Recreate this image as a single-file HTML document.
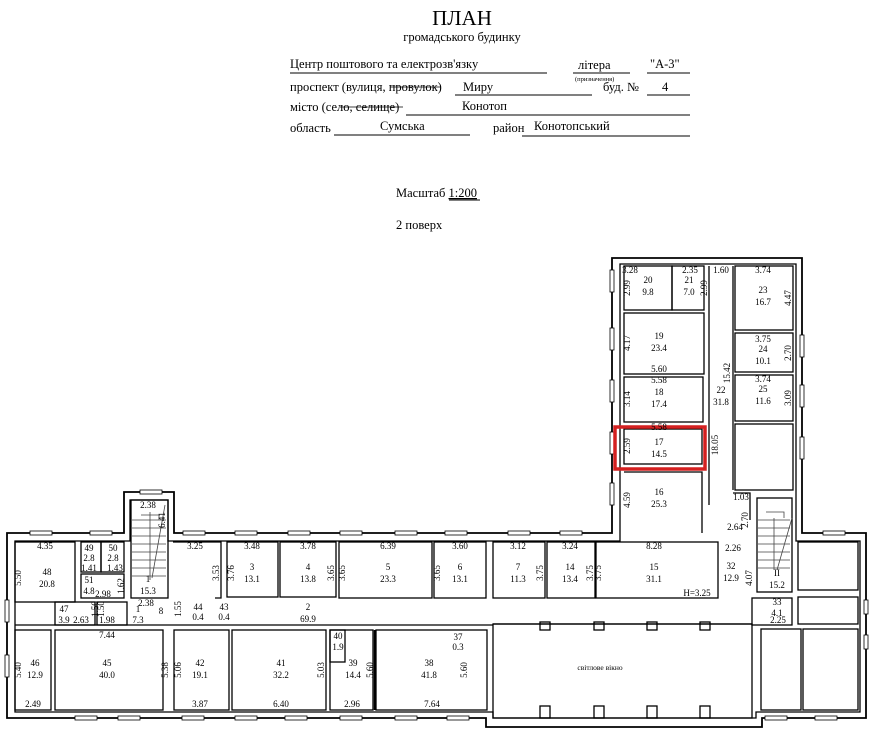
<!DOCTYPE html>
<html><head><meta charset="utf-8"><style>
html,body{margin:0;padding:0;background:#fff}
svg{display:block}
text{font-family:"Liberation Serif",serif;fill:#000}
.r{fill:none;stroke:#000;stroke-width:1.3}
.w{fill:none;stroke:#000;stroke-width:1.8}
.t{fill:none;stroke:#444;stroke-width:0.8}
.l{font-size:9px;text-anchor:middle}
.h{font-size:12.5px}
</style></head><body>
<svg width="879" height="732" viewBox="0 0 879 732" xmlns="http://www.w3.org/2000/svg">
<!-- header -->
<text x="462" y="25" font-size="21" text-anchor="middle">ПЛАН</text>
<text x="462" y="41" font-size="12.5" text-anchor="middle">громадського будинку</text>
<text class="h" x="290" y="68">Центр поштового та електрозв'язку</text>
<line x1="290" y1="73" x2="547" y2="73" stroke="#000" stroke-width="1"/>
<text class="h" x="578" y="69">літера</text>
<line x1="573" y1="73" x2="630" y2="73" stroke="#000"/>
<text font-size="6.5" x="575" y="81">(призначення)</text>
<text class="h" x="650" y="68">"А-3"</text>
<line x1="647" y1="73" x2="690" y2="73" stroke="#000"/>
<text class="h" x="290" y="91">проспект (вулиця, провулок)</text>
<line x1="390" y1="87" x2="440" y2="87" stroke="#000" stroke-width="0.8"/>
<text class="h" x="463" y="91">Миру</text>
<line x1="455" y1="95" x2="592" y2="95" stroke="#000"/>
<text class="h" x="603" y="91">буд. №</text>
<text class="h" x="662" y="91">4</text>
<line x1="647" y1="95" x2="690" y2="95" stroke="#000"/>
<text class="h" x="290" y="111">місто (село, селище)</text>
<line x1="340" y1="107" x2="403" y2="107" stroke="#000" stroke-width="0.8"/>
<text class="h" x="462" y="110">Конотоп</text>
<line x1="406" y1="115" x2="690" y2="115" stroke="#000"/>
<text class="h" x="290" y="132">область</text>
<text class="h" x="380" y="130">Сумська</text>
<line x1="334" y1="135" x2="470" y2="135" stroke="#000"/>
<text class="h" x="493" y="132">район</text>
<text class="h" x="534" y="130">Конотопський</text>
<line x1="522" y1="136" x2="690" y2="136" stroke="#000"/>
<text class="h" x="396" y="197">Масштаб <tspan text-decoration="underline">1:200</tspan></text>
<line x1="449" y1="200" x2="480" y2="200" stroke="#000"/>
<text class="h" x="396" y="229">2 поверх</text>

<!-- outer walls -->
<path class="w" d="M7 533 H124 V492 H174 V533 H612 V258 H802 V533 H866 V718 H762 V727 H486 V718 H7 Z"/>
<path class="r" d="M15 541 H130 V500 H168 V541 H620 V264 H796 V541 H860 V712 H756 V718 H493 V712 H15 Z"/>
<!-- top row rooms -->
<rect class="r" x="15" y="542" width="60" height="60"/>
<rect class="r" x="81" y="542" width="20" height="30"/>
<rect class="r" x="101" y="542" width="23" height="30"/>
<rect class="r" x="81" y="574" width="43" height="24"/>
<rect class="r" x="55" y="602" width="40" height="23"/>
<rect class="r" x="97" y="602" width="30" height="23"/>
<rect class="r" x="131" y="500" width="37" height="98"/>
<path class="r" d="M173 542 H221 V598 H215"/>
<rect class="r" x="227" y="542" width="51" height="55"/>
<rect class="r" x="280" y="542" width="56" height="55"/>
<rect class="r" x="339" y="542" width="93" height="56"/>
<rect class="r" x="434" y="542" width="52" height="56"/>
<rect class="r" x="493" y="542" width="52" height="56"/>
<rect class="r" x="547" y="542" width="48" height="56"/>
<rect class="r" x="596" y="542" width="122" height="56"/>
<rect class="r" x="757" y="498" width="35" height="94"/>
<rect class="r" x="752" y="598" width="40" height="27"/>
<rect class="r" x="798" y="542" width="60" height="48"/>
<rect class="r" x="798" y="597" width="60" height="27"/>
<line class="r" x1="15" y1="625" x2="493" y2="625"/>
<line class="r" x1="493" y1="624" x2="752" y2="624"/>
<!-- bottom row -->
<rect class="r" x="15" y="630" width="36" height="80"/>
<rect class="r" x="55" y="630" width="108" height="80"/>
<rect class="r" x="174" y="630" width="55" height="80"/>
<rect class="r" x="232" y="630" width="94" height="80"/>
<rect class="r" x="330" y="630" width="15" height="32"/>
<rect class="r" x="330" y="630" width="43" height="80"/>
<rect class="r" x="376" y="630" width="111" height="80"/>
<rect class="r" x="493" y="624" width="259" height="94"/>
<rect class="r" x="761" y="629" width="40" height="81"/>
<rect class="r" x="803" y="629" width="55" height="81"/>
<line x1="375" y1="630" x2="375" y2="710" stroke="#000" stroke-width="2.5"/>
<!-- pillars in light well -->
<g class="r">
<rect x="540" y="622" width="10" height="8"/><rect x="594" y="622" width="10" height="8"/><rect x="647" y="622" width="10" height="8"/><rect x="700" y="622" width="10" height="8"/>
<rect x="540" y="706" width="10" height="12"/><rect x="594" y="706" width="10" height="12"/><rect x="647" y="706" width="10" height="12"/><rect x="700" y="706" width="10" height="12"/>
</g>
<!-- tower rooms -->
<rect class="r" x="624" y="266" width="48" height="44"/>
<rect class="r" x="672" y="266" width="32" height="44"/>
<rect class="r" x="624" y="313" width="80" height="61"/>
<rect class="r" x="624" y="377" width="79" height="45"/>
<rect class="r" x="624" y="429" width="78" height="35"/>
<path class="r" d="M624 472 H702 V533"/>
<line class="r" x1="709" y1="266" x2="709" y2="505"/>
<line class="r" x1="733" y1="266" x2="733" y2="490"/>
<rect class="r" x="735" y="266" width="58" height="64"/>
<rect class="r" x="735" y="333" width="58" height="39"/>
<rect class="r" x="735" y="375" width="58" height="46"/>
<rect class="r" x="735" y="424" width="58" height="66"/>
<path class="r" d="M733 493 H750 V520"/>
<!-- stairs -->
<g class="t">
<path d="M132 520 H166 M132 528 H166 M132 536 H166 M132 544 H166 M132 552 H166 M132 560 H166 M132 568 H166 M132 576 H166"/>
<path d="M150 512 V580 M141 515 H159 V520"/>
<line x1="165" y1="505" x2="152" y2="578"/>
<path d="M758 520 H790 M758 528 H790 M758 536 H790 M758 544 H790 M758 552 H790 M758 560 H790 M758 568 H790"/>
<path d="M774 518 V570 M766 512 H784 V518"/>
<line x1="792" y1="518" x2="777" y2="570"/>
</g>
<!-- window marks -->
<g fill="#fff" stroke="#000" stroke-width="0.8">
<rect x="140" y="490" width="22" height="4"/><rect x="30" y="531" width="22" height="4"/><rect x="90" y="531" width="22" height="4"/>
<rect x="183" y="531" width="22" height="4"/><rect x="235" y="531" width="22" height="4"/><rect x="288" y="531" width="22" height="4"/>
<rect x="340" y="531" width="22" height="4"/><rect x="395" y="531" width="22" height="4"/><rect x="445" y="531" width="22" height="4"/>
<rect x="508" y="531" width="22" height="4"/><rect x="560" y="531" width="22" height="4"/>
<rect x="75" y="716" width="22" height="4"/><rect x="118" y="716" width="22" height="4"/><rect x="182" y="716" width="22" height="4"/>
<rect x="235" y="716" width="22" height="4"/><rect x="285" y="716" width="22" height="4"/><rect x="340" y="716" width="22" height="4"/>
<rect x="395" y="716" width="22" height="4"/><rect x="447" y="716" width="22" height="4"/>
<rect x="765" y="716" width="22" height="4"/><rect x="815" y="716" width="22" height="4"/><rect x="823" y="531" width="22" height="4"/>
<rect x="5" y="600" width="4" height="22"/><rect x="5" y="655" width="4" height="22"/>
<rect x="610" y="270" width="4" height="22"/><rect x="610" y="328" width="4" height="22"/><rect x="610" y="380" width="4" height="22"/>
<rect x="610" y="432" width="4" height="22"/><rect x="610" y="483" width="4" height="22"/>
<rect x="800" y="335" width="4" height="22"/><rect x="800" y="385" width="4" height="22"/><rect x="800" y="437" width="4" height="22"/>
<rect x="864" y="600" width="4" height="14"/><rect x="864" y="635" width="4" height="14"/>
</g>
<!-- highlight -->
<rect x="615" y="427" width="90" height="42" fill="none" stroke="#d42020" stroke-width="3.5"/>

<!-- labels -->
<g class="l">
<text x="630" y="273">3.28</text><text x="690" y="273">2.35</text><text x="648" y="283">20</text><text x="648" y="295">9.8</text>
<text x="689" y="283">21</text><text x="689" y="295">7.0</text>
<text x="721" y="273">1.60</text><text x="763" y="273">3.74</text><text x="763" y="293">23</text><text x="763" y="305">16.7</text>
<text x="659" y="339">19</text><text x="659" y="351">23.4</text><text x="659" y="372">5.60</text><text x="659" y="383">5.58</text>
<text x="659" y="395">18</text><text x="659" y="407">17.4</text><text x="659" y="430">5.58</text>
<text x="659" y="445">17</text><text x="659" y="457">14.5</text>
<text x="659" y="495">16</text><text x="659" y="507">25.3</text>
<text x="721" y="393">22</text><text x="721" y="405">31.8</text>
<text x="763" y="342">3.75</text><text x="763" y="352">24</text><text x="763" y="364">10.1</text>
<text x="763" y="382">3.74</text><text x="763" y="392">25</text><text x="763" y="404">11.6</text>
<text x="741" y="500">1.03</text><text x="735" y="530">2.64</text><text x="733" y="551">2.26</text>
<text x="731" y="569">32</text><text x="731" y="581">12.9</text><text x="777" y="576">II</text><text x="777" y="588">15.2</text>
<text x="777" y="605">33</text><text x="777" y="616">4.1</text><text x="778" y="623">2.25</text>
<text x="45" y="549">4.35</text><text x="47" y="575">48</text><text x="47" y="587">20.8</text>
<text x="89" y="551">49</text><text x="89" y="561">2.8</text><text x="89" y="571">1.41</text>
<text x="113" y="551">50</text><text x="113" y="561">2.8</text><text x="115" y="571">1.43</text>
<text x="89" y="583">51</text><text x="89" y="594">4.8</text><text x="103" y="597">2.98</text>
<text x="148" y="508">2.38</text><text x="148" y="582">1</text><text x="148" y="594">15.3</text><text x="146" y="606">2.38</text>
<text x="64" y="612">47</text><text x="64" y="623">3.9</text><text x="81" y="623">2.63</text><text x="107" y="623">1.98</text>
<text x="138" y="612">1</text><text x="138" y="623">7.3</text><text x="161" y="614">8</text>
<text x="195" y="549">3.25</text><text x="252" y="549">3.48</text><text x="252" y="570">3</text><text x="252" y="582">13.1</text>
<text x="308" y="549">3.78</text><text x="308" y="570">4</text><text x="308" y="582">13.8</text>
<text x="388" y="549">6.39</text><text x="388" y="570">5</text><text x="388" y="582">23.3</text>
<text x="460" y="549">3.60</text><text x="460" y="570">6</text><text x="460" y="582">13.1</text>
<text x="518" y="549">3.12</text><text x="518" y="570">7</text><text x="518" y="582">11.3</text>
<text x="570" y="549">3.24</text><text x="570" y="570">14</text><text x="570" y="582">13.4</text>
<text x="654" y="549">8.28</text><text x="654" y="570">15</text><text x="654" y="582">31.1</text><text x="697" y="596">H=3.25</text>
<text x="198" y="610">44</text><text x="198" y="620">0.4</text><text x="224" y="610">43</text><text x="224" y="620">0.4</text>
<text x="308" y="610">2</text><text x="308" y="622">69.9</text>
<text x="107" y="638">7.44</text><text x="35" y="666">46</text><text x="35" y="678">12.9</text><text x="33" y="707">2.49</text>
<text x="107" y="666">45</text><text x="107" y="678">40.0</text>
<text x="200" y="666">42</text><text x="200" y="678">19.1</text><text x="200" y="707">3.87</text>
<text x="281" y="666">41</text><text x="281" y="678">32.2</text><text x="281" y="707">6.40</text>
<text x="338" y="639">40</text><text x="338" y="650">1.9</text>
<text x="353" y="666">39</text><text x="353" y="678">14.4</text><text x="352" y="707">2.96</text>
<text x="429" y="666">38</text><text x="429" y="678">41.8</text><text x="432" y="707">7.64</text>
<text x="458" y="640">37</text><text x="458" y="650">0.3</text>
<text x="600" y="670" font-size="7.5" font-family="Liberation Sans,sans-serif">світлове вікно</text>
</g>
<g class="l">
<text transform="translate(630,288) rotate(-90)">2.99</text>
<text transform="translate(707,288) rotate(-90)">2.99</text>
<text transform="translate(630,343) rotate(-90)">4.17</text>
<text transform="translate(630,399) rotate(-90)">3.14</text>
<text transform="translate(630,446) rotate(-90)">2.59</text>
<text transform="translate(630,500) rotate(-90)">4.59</text>
<text transform="translate(730,373) rotate(-90)">15.42</text>
<text transform="translate(718,445) rotate(-90)">18.05</text>
<text transform="translate(791,298) rotate(-90)">4.47</text>
<text transform="translate(791,353) rotate(-90)">2.70</text>
<text transform="translate(791,398) rotate(-90)">3.09</text>
<text transform="translate(748,520) rotate(-90)">2.70</text>
<text transform="translate(752,578) rotate(-90)">4.07</text>
<text transform="translate(21,578) rotate(-90)">5.50</text>
<text transform="translate(21,670) rotate(-90)">5.40</text>
<text transform="translate(168,670) rotate(-90)">5.38</text>
<text transform="translate(181,670) rotate(-90)">5.06</text>
<text transform="translate(324,670) rotate(-90)">5.03</text>
<text transform="translate(373,670) rotate(-90)">5.60</text>
<text transform="translate(467,670) rotate(-90)">5.60</text>
<text transform="translate(219,573) rotate(-90)">3.53</text>
<text transform="translate(234,573) rotate(-90)">3.76</text>
<text transform="translate(334,573) rotate(-90)">3.65</text>
<text transform="translate(345,573) rotate(-90)">3.65</text>
<text transform="translate(440,573) rotate(-90)">3.65</text>
<text transform="translate(543,573) rotate(-90)">3.75</text>
<text transform="translate(593,573) rotate(-90)">3.75</text>
<text transform="translate(601,573) rotate(-90)">3.75</text>
<text transform="translate(124,586) rotate(-90)">1.62</text>
<text transform="translate(181,609) rotate(-90)">1.55</text>
<text transform="translate(165,520) rotate(-90)">6.41</text>
<text transform="translate(98,609) rotate(-90)">1.50</text>
<text transform="translate(104,609) rotate(-90)">1.50</text>
</g>
</svg>
</body></html>
